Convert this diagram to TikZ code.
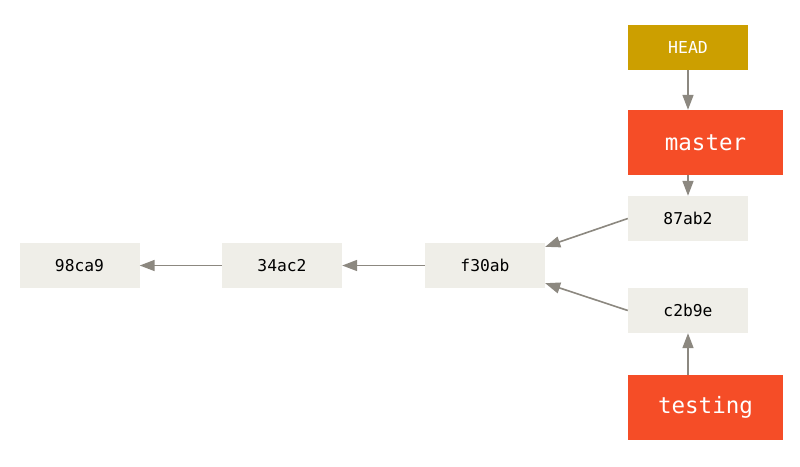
\documentclass[tikz,border=0pt]{standalone}
\usepackage{fontspec}
\setmonofont{DejaVu Sans Mono}
\usetikzlibrary{arrows.meta}
\definecolor{commitbg}{HTML}{EFEEE8}
\definecolor{branchbg}{HTML}{F54D27}
\definecolor{headbg}{HTML}{CC9F00}
\definecolor{arrowc}{HTML}{8C8880}
\tikzset{
  commit/.style={fill=commitbg, minimum width=120pt, minimum height=45pt, inner sep=0pt, font=\ttfamily\fontsize{16.3pt}{18pt}\selectfont, text=black},
  branch/.style={fill=branchbg, minimum width=155pt, minimum height=65pt, inner sep=0pt, font=\ttfamily\fontsize{22.5pt}{26pt}\selectfont, text=white},
  headbox/.style={fill=headbg, minimum width=120pt, minimum height=45pt, inner sep=0pt, font=\ttfamily\fontsize{16.5pt}{18pt}\selectfont, text=white},
  link/.style={draw=arrowc, line width=1.6pt, -{Triangle[length=15pt,width=11pt]}}
}
\begin{document}
\begin{tikzpicture}[x=1pt,y=-1pt]
\useasboundingbox[fill=white] (0,0) rectangle (800,466);
\node[commit] (c98) at (79.5,265.5) {98ca9};
\node[commit] (c34) at (282,265.5) {34ac2};
\node[commit] (cf3) at (485,265.5) {f30ab};
\node[commit] (c87) at (688,218.5) {87ab2};
\node[commit] (cc2) at (688,310.5) {c2b9e};
\node[headbox] (head) at (688,47.5) {HEAD};
\node[branch] (master) at (705.5,142.5) {master};
\node[branch] (testing) at (705.5,407.5) {testing};
\draw[link] (c34.west) -- (c98.east);
\draw[link] (cf3.west) -- (c34.east);
\draw[link] (c87.west) -- ([yshift=-4pt]cf3.north east);
\draw[link] (cc2.west) -- ([yshift=5pt]cf3.south east);
\draw[link] (head.south) -- (head.south |- master.north);
\draw[link] (master.south -| c87.north) -- (c87.north);
\draw[link] (testing.north -| cc2.south) -- (cc2.south);
\end{tikzpicture}
\end{document}
